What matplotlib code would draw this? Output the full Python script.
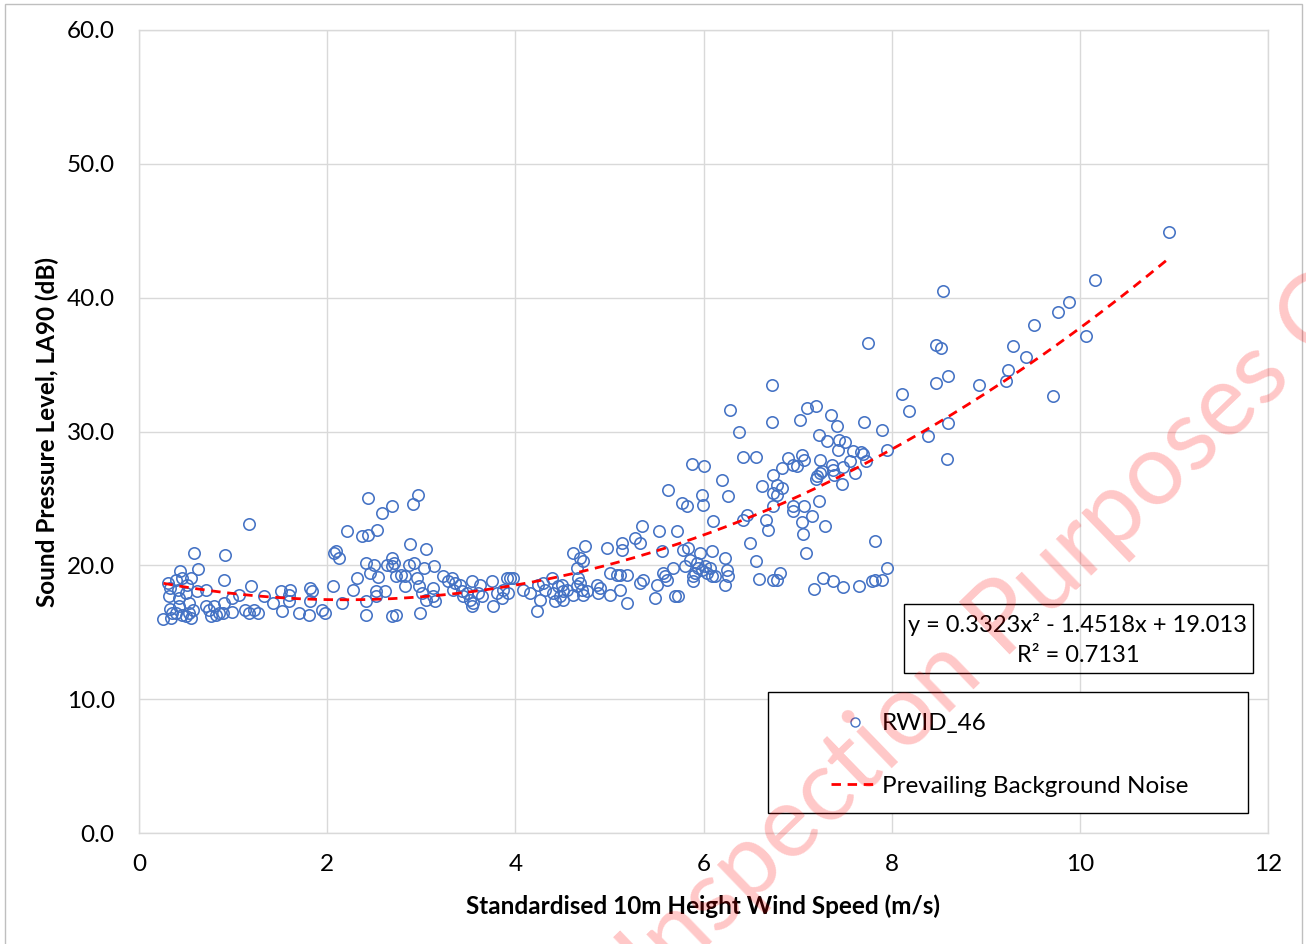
import numpy as np
import matplotlib
matplotlib.use("Agg")
import matplotlib.pyplot as plt
from matplotlib.patches import Rectangle
from matplotlib.lines import Line2D

plt.rcParams['font.family'] = ['Lato', 'DejaVu Sans']

# ---------------- data ----------------
wind_speed = [
    0.26, 0.34, 0.33, 0.32, 0.33, 0.31, 0.39, 0.44, 0.46, 0.41, 0.43, 0.51, 0.50, 0.55, 0.62, 0.58, 0.63,
    0.35, 0.39, 0.46, 0.50, 0.53, 0.57, 0.55, 0.43, 0.53, 0.71, 0.71, 0.74, 0.76, 0.80, 0.82, 0.85,
    0.90, 0.91, 0.90, 0.89, 0.99, 0.99, 1.06, 1.17, 1.19, 1.13, 1.17, 1.22, 1.26, 1.33, 1.42, 1.51,
    1.52, 1.59, 1.61, 1.59, 1.70, 1.81, 1.82, 1.84, 1.82, 1.95, 1.98, 2.06, 2.07, 2.09, 2.13, 2.16,
    2.21, 2.27, 2.32, 2.37, 2.43, 2.43, 2.41, 2.41, 2.41, 2.45, 2.50, 2.52, 2.52, 2.53, 2.54, 2.58,
    2.61, 2.64, 2.69, 2.69, 2.69, 2.71, 2.73, 2.69, 2.73, 2.78, 2.83, 2.83, 2.87, 2.88, 2.91, 2.92,
    2.96, 2.97, 2.99, 2.98, 3.01, 3.05, 3.05, 3.03, 3.12, 3.14, 3.15, 3.12,
    3.235, 3.288, 3.323, 3.359, 3.341, 3.412, 3.430, 3.447, 3.483, 3.536, 3.518, 3.554, 3.536, 3.607,
    3.625, 3.642, 3.749, 3.766, 3.802, 3.855, 3.873, 3.908, 3.943, 3.979, 3.926, 4.085, 4.156, 4.227,
    4.262, 4.245, 4.298, 4.316, 4.386, 4.404, 4.422, 4.457, 4.475, 4.510, 4.493, 4.510, 4.546, 4.617,
    4.652, 4.670, 4.688, 4.705, 4.723, 4.758, 4.652, 4.617, 4.688, 4.723, 4.741, 4.865, 4.882, 4.900,
    4.971, 5.007, 5.007, 5.077, 5.113, 5.113, 5.130, 5.130, 5.184, 5.184, 5.272, 5.325, 5.343, 5.325,
    5.361, 5.485, 5.503, 5.531, 5.556, 5.574, 5.591, 5.609, 5.627, 5.680, 5.697, 5.733, 5.715, 5.768,
    5.786, 5.804, 5.822, 5.839, 5.857, 5.892, 5.892, 5.910, 5.928, 5.946, 5.963, 5.981, 5.981, 5.992,
    5.875, 6.006, 6.016, 6.034, 6.070, 6.087, 6.087, 6.105, 6.123, 6.194, 6.229, 6.247, 6.265, 6.229,
    6.265,
    6.282, 6.381, 6.424, 6.555, 6.725, 6.725, 6.625, 6.742, 6.778, 6.831, 6.742, 6.778, 6.735, 6.664,
    6.689, 6.424, 6.459, 6.494, 6.558, 6.594, 6.742, 6.778, 6.813, 6.831, 6.902, 6.955, 6.990, 7.044,
    7.068, 7.026, 7.097, 7.193, 6.955, 6.948, 7.068, 7.150, 7.044, 7.061, 7.090, 7.231, 7.292, 7.193,
    7.203, 7.238, 7.256, 7.238, 7.228, 7.317, 7.352, 7.423, 7.362, 7.380, 7.387, 7.444, 7.504, 7.433,
    7.469, 7.487, 7.593, 7.557, 7.611, 7.671, 7.692, 7.727, 7.706, 7.894, 7.954, 8.107, 7.823, 7.947,
    7.894, 7.823, 7.788, 7.657, 7.487, 7.373, 7.267, 7.178,
    7.749, 8.185, 8.383, 8.600, 8.593, 8.603, 8.472, 8.468, 8.522, 8.550, 8.933, 9.216, 9.241, 9.294,
    9.425, 9.514, 9.719, 9.765, 9.882, 10.067, 10.162, 10.952,
]
la90 = [
    15.98, 16.06, 16.73, 17.68, 18.30, 18.67, 18.90, 19.55, 19.05, 18.18, 17.55, 18.55, 17.93, 19.05, 18.05, 20.92, 19.72,
    16.43, 16.43, 16.30, 16.18, 16.43, 16.68, 16.06, 16.93, 17.18, 16.93, 18.18, 16.68, 16.18, 16.93, 16.30, 16.43,
    18.90, 20.80, 17.18, 16.43, 16.55, 17.55, 17.80, 23.10, 18.43, 16.68, 16.43, 16.68, 16.43, 17.68, 17.18, 18.05,
    16.60, 17.80, 18.18, 17.30, 16.43, 16.30, 18.30, 18.05, 17.30, 16.68, 16.43, 18.43, 20.92, 21.05, 20.55, 17.18,
    22.54, 18.18, 19.05, 22.17, 22.29, 25.00, 20.17, 17.30, 16.30, 19.42, 20.05, 17.68, 18.05, 22.66, 19.10, 23.90,
    18.10, 20.05, 19.92, 24.41, 20.55, 20.17, 16.30, 16.18, 19.17, 19.30, 19.17, 18.43, 20.05, 21.60, 24.60, 20.17,
    19.05, 25.28, 16.43, 18.43, 17.93, 21.22, 17.43, 19.80, 18.30, 19.92, 17.30, 17.68,
    19.17, 18.80, 19.05, 18.67, 18.18, 18.55, 18.05, 17.68, 17.93, 18.80, 17.43, 17.18, 16.93, 17.93,
    18.55, 17.68, 18.80, 16.93, 17.93, 17.55, 18.18, 19.05, 19.05, 19.05, 17.93, 18.18, 17.93, 16.56,
    17.43, 18.55, 18.67, 18.18, 19.05, 17.93, 17.30, 18.43, 17.68, 17.43, 18.55, 18.05, 18.18, 17.80,
    18.43, 19.05, 18.67, 18.18, 17.80, 18.05, 19.80, 20.92, 20.55, 20.30, 21.47, 18.55, 17.93, 18.30,
    21.29, 19.42, 17.80, 19.30, 18.18, 19.30, 21.17, 21.67, 19.30, 17.18, 22.04, 21.67, 22.96, 18.67,
    18.92, 17.55, 18.55, 22.59, 21.04, 19.42, 19.17, 18.92, 25.66, 19.80, 17.68, 17.68, 22.54, 24.66,
    21.17, 19.92, 24.41, 21.29, 20.42, 19.17, 18.80, 19.42, 20.17, 19.80, 20.92, 19.67, 25.28, 24.54,
    27.60, 27.40, 19.92, 19.42, 19.80, 21.04, 19.17, 23.29, 19.17, 26.40, 20.55, 19.67, 19.17, 18.55,
    25.16,
    31.59, 29.94, 28.09, 28.09, 33.50, 30.71, 25.90, 26.77, 26.02, 25.77, 25.40, 25.28, 24.45, 23.40,
    22.66, 23.40, 23.78, 21.66, 20.29, 18.97, 18.92, 18.92, 19.42, 27.27, 28.02, 27.52, 27.40, 28.22,
    27.90, 30.89, 31.76, 31.93, 24.40, 24.03, 24.45, 23.70, 23.21, 22.36, 20.91, 24.78, 22.96, 26.45,
    26.65, 26.90, 27.02, 27.90, 29.72, 29.32, 31.21, 30.39, 27.52, 27.15, 26.77, 29.39, 29.19, 28.59,
    26.10, 27.35, 28.52, 27.77, 26.90, 28.44, 28.34, 27.77, 30.71, 30.09, 28.62, 32.83, 21.79, 19.79,
    18.92, 18.92, 18.80, 18.47, 18.37, 18.80, 19.04, 18.24,
    36.62, 31.51, 29.69, 30.61, 27.92, 34.13, 33.63, 36.50, 36.25, 40.51, 33.50, 33.80, 34.63, 36.42,
    35.53, 37.99, 32.63, 38.92, 39.71, 37.12, 41.31, 44.90,
]
trend_coef = [0.3323, -1.4518, 19.013]   # from the displayed trendline equation
series_name = "RWID_46"
trend_name = "Prevailing Background Noise"
x_ticks = [0, 2, 4, 6, 8, 10, 12]
y_ticks = [0, 10, 20, 30, 40, 50, 60]
x_title = "Standardised 10m Height Wind Speed (m/s)"
y_title = "Sound Pressure Level, LA90 (dB)"
eq_line1 = "y = 0.3323x\u00b2 - 1.4518x + 19.013"
eq_line2 = "R\u00b2 = 0.7131"
watermark = "For Inspection Purposes Only"

W, H = 1306, 944
fig = plt.figure(figsize=(W / 100, H / 100), dpi=100)
fx = lambda px: px / W
fy = lambda py: 1 - py / H

ax = fig.add_axes([fx(139), fy(833), (1268 - 139) / W, (833 - 30) / H])

grid_c = '#D9D9D9'
blue = '#4472C4'
fs = 17.5

x = np.array(wind_speed)
y = np.array(la90)
ax.plot(x, y, linestyle='none', marker='o', markersize=8.2, markerfacecolor='none',
        markeredgecolor=blue, markeredgewidth=1.15, zorder=3)

xt = np.linspace(x.min(), x.max(), 200)
ax.plot(xt, np.polyval(trend_coef, xt), color='#FF0000', linewidth=2.0,
        linestyle=(0, (3.4, 2.4)), zorder=4)

ax.set_xlim(0, 12)
ax.set_ylim(0, 60)
ax.set_xticks(x_ticks)
ax.set_yticks(y_ticks)
ax.set_xticklabels([str(v) for v in x_ticks])
ax.set_yticklabels([f"{v:.1f}" for v in y_ticks])
ax.tick_params(length=0, labelsize=fs, colors='black')
ax.tick_params(axis='y', pad=17.5)
ax.tick_params(axis='x', pad=15)
ax.grid(True, color=grid_c, linewidth=1.0)
ax.set_axisbelow(True)
for s in ax.spines.values():
    s.set_color(grid_c)
    s.set_linewidth(1.0)

fig.text(fx(703), fy(906), x_title, ha='center', va='center', fontsize=fs, fontweight='bold')
fig.text(fx(47), fy(432), y_title, ha='center', va='center', fontsize=fs, fontweight='bold', rotation=90)

# equation box
fig.patches.append(Rectangle((fx(904), fy(673)), fx(1253) - fx(904), fy(604) - fy(673),
                             transform=fig.transFigure, fill=False, edgecolor='black', linewidth=1.0, zorder=5))
fig.text(fx(1078), fy(624), eq_line1, ha='center', va='center', fontsize=17, zorder=6)
fig.text(fx(1078), fy(656), eq_line2, ha='center', va='center', fontsize=17, zorder=6)

# legend box
fig.patches.append(Rectangle((fx(768), fy(813)), fx(1248) - fx(768), fy(692) - fy(813),
                             transform=fig.transFigure, facecolor='white', edgecolor='black', linewidth=1.0, zorder=5))
handles = [Line2D([], [], linestyle='none', marker='o', markersize=6.5, markerfacecolor='none',
                  markeredgecolor=blue, markeredgewidth=1.0),
           Line2D([], [], color='#FF0000', linewidth=2.0, linestyle=(0, (3.4, 2.4)))]
leg = fig.legend(handles, [series_name, trend_name], loc='upper left',
                 bbox_to_anchor=(fx(831), fy(713)), bbox_transform=fig.transFigure,
                 frameon=False, fontsize=fs, handlelength=1.98, handletextpad=0.1,
                 labelspacing=1.72, borderpad=0, borderaxespad=0)
leg.set_zorder(6)

# outer chart border
fig.patches.append(Rectangle((fx(5), fy(950)), fx(1302) - fx(5), fy(4) - fy(950),
                             transform=fig.transFigure, fill=False, edgecolor='#BFBFBF', linewidth=1.0, zorder=1))

# watermark
fig.text(fx(978), fy(646), watermark, ha='center', va='center', rotation=44, rotation_mode='anchor',
         fontsize=72, color='#FF0000', alpha=0.22, zorder=10)

fig.savefig('out.png', dpi=100)
